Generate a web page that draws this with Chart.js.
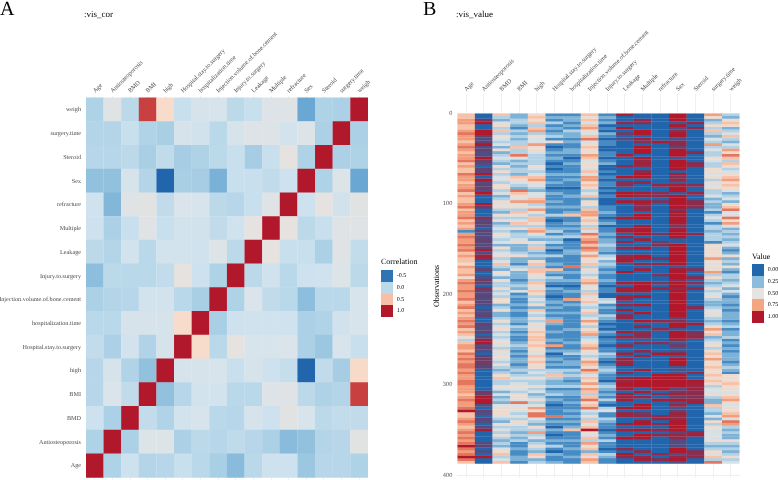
<!DOCTYPE html>
<html>
<head>
<meta charset="utf-8">
<script src="https://cdn.jsdelivr.net/npm/chart.js@4"></script>
<style>
body { margin: 0; background: #fff; width: 778px; height: 480px; overflow: hidden; position: relative; font-family: "Liberation Serif", serif; text-rendering: geometricPrecision; }
canvas { position: absolute; top: 0; }
.txt { position: absolute; white-space: nowrap; line-height: 1; }
.swatch { position: absolute; width: 12px; height: 11.8px; }
</style>
</head>
<body>
<canvas id="corChart" width="420" height="480" style="left:0"></canvas>
<canvas id="valueChart" width="358" height="480" style="left:420px"></canvas>
<div class="txt" style="left:0;top:-1px;font-size:20px">A</div>
<div class="txt" style="left:423px;top:-1px;font-size:20px">B</div>
<div class="txt" style="left:84px;top:10px;font-size:9px">:vis_cor</div>
<div class="txt" style="left:456px;top:10px;font-size:9px">:vis_value</div>
<div id="legends"></div>
<script>
// variable names
const varNames = ['Age', 'Antiosteoporosis', 'BMD', 'BMI', 'high', 'Hospital.stay.to.surgery', 'hospitalization.time',
    'Injection.volume.of.bone.cement', 'Injury.to.surgery', 'Leakage', 'Multiple', 'refracture', 'Sex', 'Steroid', 'surgery.time', 'weigh'];

// correlation rows, bottom row (Age) first
const corAge = [1, -.05, .07, -.03, -.02, .05, -.01, -.07, -.14, -.01, .07, .07, -.1, -.02, -.02, -.05];
const corAnti = [-.05, 1, -.06, .15, .15, -.06, 0, -.02, .01, -.02, -.06, -.14, -.12, -.03, -.02, .18];
const corBMD = [.07, -.06, 1, .03, -.04, .1, .13, -.01, -.02, .12, .07, .18, .13, 0, .03, .02];
const corBMI = [-.02, .14, .02, 1, -.12, -.02, .1, .1, -.01, -.01, .16, .17, 0, -.05, -.03, .85];
const corHigh = [-.02, .12, -.04, -.12, 1, .12, .12, .13, .05, .12, .07, .04, -.58, .02, -.08, .36];
const corStay = [.03, -.06, .1, -.04, .12, 1, .35, -.01, .2, .13, .13, .14, -.06, -.1, .13, .05];
const corTime = [-.01, -.01, .12, .12, .12, .35, 1, -.07, .07, .08, .08, .08, -.06, -.04, .09, .13];
const corVol = [-.06, -.03, -.02, .1, .1, -.01, -.07, 1, -.05, .14, .02, -.01, -.13, -.01, -.01, .13];
const corInjury = [-.13, 0, -.01, -.01, .03, .2, .07, -.05, 1, 0, .08, -.01, .07, .08, .15, 0];
const corLeak = [0, -.03, .1, -.01, .1, .1, .08, .15, 0, 1, .2, .05, .05, -.06, .17, .03];
const corMult = [.07, -.06, .05, .17, .05, .1, .09, .02, .08, .2, 1, .2, 0, .05, .17, .17];
const corRefr = [.08, -.15, .17, .18, .02, .14, .13, 0, -.02, .05, .17, 1, .07, .2, .09, .18];
const corSex = [-.12, -.12, .12, -.03, -.58, -.07, -.08, -.17, .05, .05, .02, .07, 1, -.05, .15, -.2];
const corSteroid = [-.02, -.02, 0, -.07, .02, -.08, -.05, 0, .05, -.08, .05, .2, -.05, 1, -.06, -.05];
const corSurgery = [-.03, -.03, .05, -.04, -.07, .12, .09, -.01, .12, .16, .15, .1, .15, -.06, 1, -.06];
const corWeigh = [-.05, .17, 0, .85, .35, .05, .12, .13, 0, .05, .16, .17, -.2, -.05, -.06, 1];
const corRows = [corAge, corAnti, corBMD, corBMI, corHigh, corStay, corTime, corVol, corInjury, corLeak, corMult, corRefr, corSex, corSteroid, corSurgery, corWeigh];

// value levels 0-9 per column, one entry per band of 3 observations
const obsPerBand = 3;
const valAge = [6,6,7,7,6,6,7,8,7,7,6,7,8,7,6,7,7,8,6,7,6,6,8,7,7,6,7,7,8,6,7,6,6,
    7,8,6,7,7,8,6,7,6,7,1,7,8,7,7,8,7,8,6,7,6,6,5,7,6,6,7,5,7,8,7,7,8,
    7,7,8,6,7,8,6,7,6,7,8,7,8,6,7,6,5,3,6,7,7,6,8,7,8,7,8,8,7,8,7,7,8,
    8,7,7,7,6,7,8,7,7,8,9,6,6,7,8,7,6,7,8,7,8,7,8,9,8,7,8,9,8,6];
const valAnti = [0,0,6,9,0,0,9,9,4,3,4,9,3,4,3,3,9,5,3,0,4,4,9,0,9,3,4,4,3,9,0,0,0,
    9,5,0,0,0,6,3,4,3,0,4,3,3,4,4,3,4,9,3,8,7,0,0,0,4,0,0,3,5,4,0,6,4,
    3,4,3,4,3,0,3,3,4,0,0,4,3,3,4,0,3,8,9,3,4,3,0,4,5,5,4,4,0,0,0,0,0,
    0,0,0,5,4,9,9,9,3,0,4,3,0,4,3,0,3,8,0,0,0,0,3,4,0,3,0,9,0,0];
const valBMD = [6,3,2,4,5,3,6,3,5,4,3,4,2,5,2,3,4,3,2,5,3,5,3,4,4,3,5,5,3,4,2,3,5,
    4,5,3,2,5,3,5,2,3,4,3,5,4,3,4,2,5,3,4,5,3,4,6,3,2,5,4,2,5,3,3,5,3,
    4,3,5,5,2,3,5,2,2,3,5,3,4,5,3,4,3,4,5,4,3,5,4,5,4,3,5,3,2,3,5,6,3,
    3,5,4,2,4,2,3,2,4,5,5,5,4,3,2,5,3,4,3,5,3,2,3,2,4,5,6,3,4,6];
const valBMI = [2,2,3,3,2,1,3,2,3,2,3,3,6,3,3,8,4,2,3,2,3,3,2,6,5,4,3,2,8,6,5,4,7,
    4,5,3,6,5,3,4,6,3,5,2,3,3,4,5,2,2,2,3,5,2,2,1,3,4,2,2,2,1,2,3,2,4,
    1,2,1,1,2,1,2,1,1,2,2,1,3,2,1,2,1,1,2,3,2,1,2,1,2,2,1,2,3,2,3,4,3,
    4,5,4,3,5,5,4,8,4,5,4,3,4,3,5,4,3,3,2,3,2,3,1,1,2,1,1,2,2,1];
const valHigh = [5,6,5,6,3,6,7,3,5,4,4,7,5,5,4,3,3,3,3,5,4,3,4,6,7,5,4,3,2,4,4,6,7,
    3,4,7,5,3,6,6,5,3,6,7,4,3,2,5,3,6,3,2,3,2,5,6,3,6,6,5,4,3,6,5,4,6,
    5,3,4,3,5,2,6,4,3,5,3,5,4,5,6,5,6,6,5,6,5,5,4,6,5,6,5,5,3,4,3,5,3,
    3,5,3,4,2,3,5,3,4,7,5,8,8,4,3,2,5,3,7,3,4,2,3,5,3,2,6,5,2,3];
const valStay = [1,2,1,3,1,2,1,2,3,1,5,1,0,1,2,1,2,1,0,1,0,1,2,1,1,2,1,0,1,2,1,1,2,
    1,2,1,1,3,1,0,1,1,2,3,1,3,2,3,1,2,0,1,3,1,1,2,1,6,2,1,3,2,1,0,2,1,
    1,0,1,2,1,2,1,2,1,2,7,2,1,1,2,1,1,2,1,7,1,2,0,1,2,1,2,1,3,3,6,3,2,
    2,3,1,2,3,1,2,1,0,1,1,1,8,1,2,1,0,2,1,0,1,2,1,3,1,0,2,1,1,2];
const valTime = [1,2,2,1,2,1,3,2,2,1,2,1,1,2,2,1,0,1,2,1,1,1,2,1,2,1,1,0,1,1,2,1,1,
    1,2,1,2,6,1,1,2,1,2,1,2,3,0,1,1,1,2,2,1,1,1,1,8,1,2,1,1,2,1,0,1,2,
    1,1,7,1,2,1,1,2,1,1,1,1,1,2,1,1,1,1,2,1,1,2,3,1,1,2,2,1,3,2,3,2,1,
    2,3,1,2,2,1,1,2,1,1,2,1,2,1,2,1,2,6,1,1,1,2,1,1,2,1,1,2,1,1];
const valVol = [6,5,6,4,6,7,5,4,6,8,4,5,6,5,5,7,6,4,5,5,4,6,4,7,7,5,6,5,3,4,6,2,5,
    5,3,6,7,7,5,6,5,3,6,4,8,6,7,8,6,8,7,5,7,5,5,6,3,5,4,3,5,6,7,4,5,3,
    6,4,5,6,4,3,5,6,3,4,7,5,3,5,6,7,3,4,5,6,7,5,4,3,5,7,6,5,8,6,4,6,5,
    7,5,7,6,3,6,8,5,6,8,4,3,5,3,6,4,6,9,5,4,6,3,7,5,6,2,6,5,7,6];
const valInjury = [1,2,1,2,0,1,0,2,1,0,1,1,0,0,1,1,0,1,2,0,0,1,0,1,0,1,1,0,1,0,1,0,0,
    0,1,1,2,1,0,1,2,0,1,1,2,1,2,2,3,2,2,1,3,4,2,3,2,1,2,1,1,2,1,0,1,1,
    0,0,3,4,1,2,1,1,3,2,1,0,1,0,2,1,0,1,1,0,1,1,3,2,1,0,1,2,3,2,1,1,0,
    2,3,2,1,2,1,3,1,0,3,4,1,1,3,2,1,1,0,1,2,1,3,1,1,0,1,3,2,1,1];
const valLeak = [8,0,0,7,0,9,0,5,0,3,0,0,0,0,0,8,0,0,0,7,0,0,0,9,0,6,6,0,0,9,8,0,9,
    0,0,0,0,0,8,0,0,0,7,8,0,7,0,7,0,6,0,0,7,8,8,0,0,0,9,0,0,0,8,0,8,8,
    0,8,7,0,7,0,8,0,7,7,0,0,0,0,8,0,7,0,0,7,0,0,8,0,7,7,8,0,0,7,0,8,7,
    9,8,8,0,8,7,8,0,0,9,0,8,7,0,0,8,0,8,0,0,9,0,0,0,7,0,9,7,0,0];
const valMult = [0,0,7,6,0,0,9,9,0,7,6,0,9,9,9,0,8,7,8,6,0,7,9,9,0,7,0,0,0,8,7,0,9,
    7,6,7,0,9,9,0,0,8,8,9,9,0,8,0,0,9,0,0,9,8,0,7,0,8,0,0,0,0,9,9,9,8,
    0,9,0,0,9,0,0,9,0,0,9,0,7,0,6,7,6,0,7,0,0,7,0,7,0,0,0,0,8,0,0,9,9,
    9,9,0,8,0,7,0,0,9,9,0,6,7,0,9,9,0,9,0,9,8,0,0,0,0,7,0,7,8,0];
const valRefr = [0,0,0,0,0,0,0,0,0,0,8,0,0,0,0,0,0,0,0,0,0,0,0,0,0,0,7,0,0,6,7,0,6,
    0,0,0,0,0,0,0,0,0,0,0,6,0,0,5,6,0,0,0,0,6,0,7,0,0,0,6,0,0,5,0,7,0,
    0,0,0,0,0,0,0,0,0,0,7,0,0,6,0,0,0,0,6,0,0,0,9,0,0,0,0,0,0,0,9,9,9,
    9,9,9,0,7,0,8,0,0,0,0,0,7,7,0,7,0,7,0,7,0,0,0,0,0,0,7,0,7,0];
const valSex = [9,9,9,2,9,3,6,9,9,2,7,7,4,9,9,9,1,9,9,9,9,1,8,6,7,2,8,9,9,2,9,9,9,
    9,9,6,9,8,9,9,8,5,7,9,9,9,1,1,9,9,9,9,9,9,9,9,2,9,9,9,9,6,9,9,7,9,
    9,9,9,9,9,9,9,9,9,4,6,9,9,2,9,9,9,6,2,5,2,2,9,2,9,9,9,2,2,2,9,9,9,
    9,9,3,6,8,4,9,3,7,2,4,8,7,7,9,9,9,9,4,7,7,3,3,3,9,9,3,7,9,2];
const valSteroid = [0,0,0,7,0,7,0,0,0,0,0,0,0,0,7,0,0,0,7,6,0,0,0,0,0,0,6,0,0,7,0,0,7,
    7,6,0,0,0,0,0,0,0,0,0,7,0,0,0,0,0,0,0,0,0,0,0,0,6,0,0,7,0,6,0,7,0,
    0,0,0,0,0,7,0,0,0,0,0,8,0,0,6,6,7,0,0,0,0,0,0,0,0,0,0,0,0,7,0,0,9,
    8,7,8,6,7,6,7,8,0,0,0,0,0,0,0,0,0,0,7,8,0,0,0,0,0,7,6,7,0,0];
const valSurgery = [7,5,2,3,5,3,6,3,2,4,3,7,3,4,3,3,5,4,3,3,5,5,4,5,3,5,4,5,3,3,4,2,3,
    2,2,3,1,3,4,3,1,3,3,2,3,3,3,1,5,5,5,5,5,7,5,4,5,5,7,3,5,3,2,3,5,3,
    4,5,3,2,2,3,4,5,4,3,2,3,5,7,5,6,2,3,4,5,3,5,6,5,7,5,5,6,5,5,6,5,6,
    5,3,4,4,5,3,2,2,6,3,3,2,4,2,5,3,5,4,4,4,4,5,3,2,3,5,4,6,3,8];
const valWeigh = [3,2,5,6,5,2,3,4,6,3,2,4,3,7,5,8,6,3,6,5,3,4,5,6,7,5,6,5,4,2,3,4,2,
    5,6,8,4,4,8,5,7,4,2,3,2,3,2,3,4,2,1,2,5,2,3,2,5,2,1,3,3,2,3,4,2,4,
    2,1,2,2,1,2,1,2,2,2,1,2,3,1,2,2,3,1,2,1,2,1,2,2,2,1,2,3,2,1,5,5,5,
    6,5,5,4,5,6,7,5,4,5,5,6,7,4,8,7,3,2,3,2,2,5,3,2,3,2,3,5,3,4];
const valColumns = [valAge, valAnti, valBMD, valBMI, valHigh, valStay, valTime, valVol, valInjury, valLeak, valMult, valRefr, valSex, valSteroid, valSurgery, valWeigh];
// 0/1 columns: the level is the share of ones in the band, so mixed bands go purple
const binaryColumns = [1, 9, 10, 11, 12, 13];

const valueTicks = [0, 100, 200, 300, 400];
const corLegendLabels = ['-0.5', '0.0', '0.5', '1.0'];
const corLegendValues = [-0.5, 0, 0.5, 1];
const valueLegendLabels = ['0.00', '0.25', '0.50', '0.75', '1.00'];
const valueLegendValues = [0, 0.25, 0.5, 0.75, 1];

// colour ramps
const corStops = [[-0.58, '#2166ac'], [-0.5, '#2f75b6'], [-0.2, '#6aa8d3'], [-0.08, '#a6cde4'], [0, '#bcd9ea'], [0.08, '#cfe2ee'],
    [0.14, '#dae4ea'], [0.2, '#e5e2e0'], [0.35, '#f8dccb'], [0.5, '#f7bfa5'], [0.85, '#c8403f'], [1, '#b2182b']];
const valueStops = [[0, '#2166ac'], [0.125, '#4b90c6'], [0.25, '#8bbcdb'], [0.375, '#c6dcea'], [0.5, '#e6e3e0'], [0.625, '#f8d0bb'],
    [0.75, '#f4a582'], [0.875, '#ea8266'], [1, '#b2182b']];

function hexToRgb(hex) {
    return [1, 3, 5].map(i => parseInt(hex.slice(i, i + 2), 16));
}

function mixColor(a, b, t) {
    const ca = hexToRgb(a), cb = hexToRgb(b);
    return 'rgb(' + ca.map((c, i) => Math.round(c + (cb[i] - c) * t)).join(',') + ')';
}

function rampColor(stops, v) {
    if (v <= stops[0][0]) return stops[0][1];
    for (let i = 1; i < stops.length; i++) {
        if (v <= stops[i][0]) {
            return mixColor(stops[i - 1][1], stops[i][1], (v - stops[i - 1][0]) / (stops[i][0] - stops[i - 1][0]));
        }
    }
    return stops[stops.length - 1][1];
}

function valueColor(col, level) {
    if (binaryColumns.includes(col)) return mixColor('#2166ac', '#b2182b', level / 9);
    return rampColor(valueStops, level / 9);
}

const serif = '"Liberation Serif", serif';
const tickGrey = '#4d4d4d';
const gridGrey = '#ececec';

// small text keeps its true width this way
const preciseText = {
    id: 'preciseText',
    beforeUpdate: chart => { chart.ctx.textRendering = 'geometricPrecision'; },
    beforeDraw: chart => { chart.ctx.textRendering = 'geometricPrecision'; }
};

function xAxis(height) {
    return {
        position: 'top',
        grid: { color: gridGrey, lineWidth: 0.8, offset: false, drawTicks: false },
        border: { display: false },
        ticks: { autoSkip: false, minRotation: 45, maxRotation: 45, padding: 1, labelOffset: 4.5, color: tickGrey, font: { family: serif, size: 6.3 } },
        afterFit: s => { s.height = height; s.paddingLeft = 0; s.paddingRight = 0; }
    };
}

// Chart A: correlation
const corDatasets = corRows.map((row, r) => ({
    data: row.map(() => [r, r + 1.02]),
    backgroundColor: row.map(v => rampColor(corStops, v))
}));

new Chart(document.getElementById('corChart'), {
    type: 'bar',
    data: { labels: varNames, datasets: corDatasets },
    plugins: [preciseText],
    options: {
        responsive: false,
        animation: false,
        events: [],
        grouped: false,
        barPercentage: 1.01,
        categoryPercentage: 1,
        layout: { padding: { left: 0, right: 52, top: 0, bottom: 0 } },
        plugins: { legend: { display: false }, tooltip: { enabled: false } },
        scales: {
            x: xAxis(95.6),
            y: {
                min: -0.1,
                max: 16.1,
                grid: { display: false, drawTicks: false },
                border: { display: false },
                afterBuildTicks: s => { s.ticks = varNames.map((n, i) => ({ value: i + 0.5 })); },
                ticks: { autoSkip: false, padding: 5, color: tickGrey, font: { family: serif, size: 6.2 }, callback: v => varNames[v - 0.5] },
                afterFit: s => { s.width = 86; s.paddingTop = 0; s.paddingBottom = 0; }
            }
        }
    }
});

// Chart B: values by observation
const valDatasets = [];
for (let b = 0; b < valAge.length; b++) {
    valDatasets.push({
        data: valColumns.map(() => [b * obsPerBand, (b + 1) * obsPerBand + 0.3]),
        backgroundColor: valColumns.map((col, c) => valueColor(c, col[b]))
    });
}

new Chart(document.getElementById('valueChart'), {
    type: 'bar',
    data: { labels: varNames, datasets: valDatasets },
    plugins: [preciseText],
    options: {
        responsive: false,
        animation: false,
        events: [],
        grouped: false,
        barPercentage: 1.01,
        categoryPercentage: 1,
        layout: { padding: { left: 12, right: 38.3, top: 0, bottom: 2 } },
        plugins: { legend: { display: false }, tooltip: { enabled: false } },
        scales: {
            x: xAxis(94),
            y: {
                reverse: true,
                min: -21,
                max: 403,
                grid: { color: gridGrey, lineWidth: 0.8, drawTicks: false },
                border: { display: false },
                title: { display: true, text: 'Observations', color: '#000', font: { family: serif, size: 8 }, padding: 0 },
                afterBuildTicks: s => { s.ticks = valueTicks.map(v => ({ value: v })); },
                ticks: { padding: 5, color: tickGrey, font: { family: serif, size: 6.3 } },
                afterFit: s => { s.width = 25.3; s.paddingTop = 0; s.paddingBottom = 0; }
            }
        }
    }
});

// legends
function addLegend(title, x, titleTop, swatchTop, labels, colors) {
    const box = document.getElementById('legends');
    box.insertAdjacentHTML('beforeend', `<div class="txt" style="left:${x}px;top:${titleTop}px;font-size:8px;color:#000">${title}</div>`);
    labels.forEach((label, i) => {
        const top = swatchTop + i * 11.8;
        box.insertAdjacentHTML('beforeend', `<div class="swatch" style="left:${x}px;top:${top}px;background:${colors[i]}"></div>`);
        box.insertAdjacentHTML('beforeend', `<div class="txt" style="left:${x + 15.7}px;top:${top + 3}px;font-size:6px;color:#000">${label}</div>`);
    });
}
addLegend('Correlation', 381, 258, 270, corLegendLabels, corLegendValues.map(v => rampColor(corStops, v)));
addLegend('Value', 752, 253, 264, valueLegendLabels, valueLegendValues.map(v => rampColor(valueStops, v)));
</script>
</body>
</html>
